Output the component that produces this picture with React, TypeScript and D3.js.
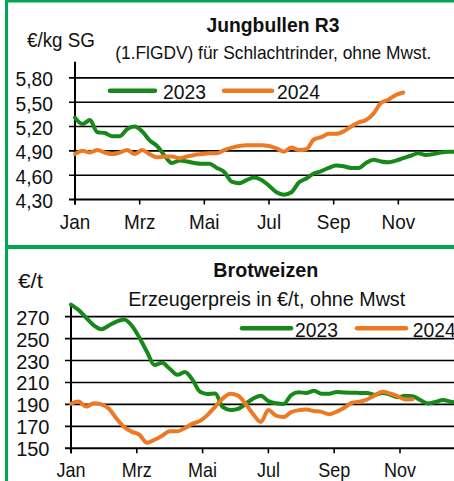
import { useEffect, useRef } from 'react';
import * as d3 from 'd3';

// weekly values, week 0 = first week of January
const bullen2023 = [
  5.31, 5.23, 5.28, 5.13, 5.12, 5.08, 5.08, 5.17, 5.2, 5.14, 5.03, 4.96, 4.84,
  4.75, 4.78, 4.77, 4.75, 4.74, 4.74, 4.69, 4.64, 4.52, 4.5, 4.54, 4.57, 4.54,
  4.47, 4.39, 4.36, 4.39, 4.51, 4.56, 4.62, 4.65, 4.69, 4.72, 4.71, 4.69, 4.69,
  4.75, 4.79, 4.77, 4.76, 4.78, 4.81, 4.84, 4.87, 4.85, 4.86, 4.88, 4.89, 4.89
];
const bullen2024 = [
  4.86, 4.9, 4.88, 4.91, 4.88, 4.86, 4.88, 4.91, 4.86, 4.91, 4.86, 4.82, 4.83,
  4.83, 4.81, 4.83, 4.85, 4.86, 4.87, 4.87, 4.91, 4.94, 4.96, 4.97, 4.97, 4.97,
  4.96, 4.93, 4.89, 4.94, 4.91, 4.92, 5.04, 5.07, 5.11, 5.11, 5.14, 5.2, 5.25,
  5.28, 5.36, 5.49, 5.53, 5.59, 5.62
];
const weizen2023 = [
  281, 276, 269, 262, 258.5, 262, 265.5, 267.5, 262, 251, 238, 226, 228, 222.5,
  217, 219.5, 212.5, 201.5, 199.5, 200, 187.5, 185, 186, 190.5, 195.5, 198, 193,
  191, 190.5, 198.5, 201, 200.5, 202.5, 199.7, 199.7, 201.3, 200.8, 200.6, 200.5,
  200.4, 198.7, 200.5, 199, 196.5, 197.8, 197.5, 194, 190.8, 192.2, 194, 192.5, 191.5
];
const weizen2024 = [
  190.6, 192.6, 188, 191, 190, 186, 177, 169.5, 165.2, 162.5, 155, 157.8, 161.5,
  165.5, 165.5, 168.5, 172.5, 175, 180.5, 188, 195.5, 199.7, 198, 190.5, 181, 174,
  185, 179.7, 178.5, 183, 184.8, 185.3, 184, 183.2, 181, 183.5, 187, 191.5, 192.5,
  194.5, 198.2, 201.5, 200, 197.5, 194.5, 194.8
];

const monthTicks = [0, 2, 4, 6, 8, 10];
const monthLabels = ['Jan', 'Mrz', 'Mai', 'Jul', 'Sep', 'Nov'];
const bullenTicks = [4.3, 4.6, 4.9, 5.2, 5.5, 5.8];
const weizenTicks = [150, 170, 190, 210, 230, 250, 270];
const years = ['2023', '2024'];

const GREEN = '#17891a';
const ORANGE = '#ec7a25';
const FRAME = '#00a651';
const FONT = '"Liberation Sans", Arial, sans-serif';

interface Panel {
  series: number[][];
  domain: [number, number];
  ticks: number[];
  fmt: (v: number) => string;
  xRange: [number, number];
  yRange: [number, number];
  tickRight: number;
  tickSize: number;
  tickSx: number;
  monthY: number;
  monthSize: number;
  title: { text: string; x: number; y: number; len: number };
  sub: { text: string; x: number; y: number; len: number; size: number };
  unit: { text: string; x: number; y: number; len: number };
  legend: { y: number; lines: [number, number][]; textX: number[] };
}

const panels: Panel[] = [
  {
    series: [bullen2023, bullen2024],
    domain: [4.3, 6.0],
    ticks: bullenTicks,
    fmt: v => v.toFixed(2).replace('.', ','),
    xRange: [75, 463],
    yRange: [199.5, 61.7],
    tickRight: 53,
    tickSize: 21,
    tickSx: 0.92,
    monthY: 229,
    monthSize: 21,
    title: { text: 'Jungbullen R3', x: 273, y: 31.5, len: 133 },
    sub: { text: '(1.FlGDV) für Schlachtrinder, ohne Mwst.', x: 273.3, y: 58.5, len: 316, size: 18.6 },
    unit: { text: '€/kg SG', x: 27, y: 46.5, len: 68 },
    legend: { y: 90.7, lines: [[110, 155], [224, 272]], textX: [163, 277] }
  },
  {
    series: [weizen2023, weizen2024],
    domain: [150, 280],
    ticks: weizenTicks,
    fmt: v => String(v),
    xRange: [71, 465.8],
    yRange: [448.3, 305.7],
    tickRight: 49.5,
    tickSize: 20,
    tickSx: 1,
    monthY: 476.5,
    monthSize: 20,
    title: { text: 'Brotweizen', x: 265.8, y: 276.5, len: 105 },
    sub: { text: 'Erzeugerpreis in €/t, ohne Mwst', x: 266.7, y: 306, len: 277, size: 20 },
    unit: { text: '€/t', x: 18, y: 288, len: 25 },
    legend: { y: 328.3, lines: [[242, 291], [357, 406]], textX: [295, 412.7] }
  }
];

export default function App() {
  const svgRef = useRef<SVGSVGElement>(null);

  useEffect(() => {
    if (!svgRef.current) return;
    const svg = d3.select(svgRef.current);
    svg.selectAll('*').remove();

    // green frame
    svg.append('rect').attr('x', 5).attr('y', 0).attr('width', 449).attr('height', 2.5).attr('fill', FRAME);
    svg.append('rect').attr('x', 5).attr('y', 0).attr('width', 3).attr('height', 481).attr('fill', FRAME);
    svg.append('rect').attr('x', 5).attr('y', 245).attr('width', 449).attr('height', 4).attr('fill', FRAME);

    panels.forEach(p => {
      const g = svg.append('g');
      const x = d3.scaleLinear().domain([0, 12]).range(p.xRange);
      const y = d3.scaleLinear().domain(p.domain).range(p.yRange);
      const [x0] = p.xRange;

      // gridlines + y ticks
      p.ticks.forEach(t => {
        g.append('line')
          .attr('x1', x0 - 6).attr('x2', 454)
          .attr('y1', y(t)).attr('y2', y(t))
          .attr('stroke', '#000').attr('stroke-width', t === p.domain[0] ? 2 : 1.6);
        g.append('text')
          .attr('transform', `translate(${p.tickRight},${y(t)}) scale(${p.tickSx},1)`)
          .attr('dy', '0.4em')
          .attr('text-anchor', 'end')
          .attr('font-family', FONT)
          .attr('font-size', p.tickSize)
          .attr('fill', '#111')
          .text(p.fmt(t));
      });

      // y axis
      g.append('line')
        .attr('x1', x0).attr('x2', x0)
        .attr('y1', p.yRange[1]).attr('y2', p.yRange[0] + 5)
        .attr('stroke', '#000').attr('stroke-width', 2);

      // month ticks
      monthTicks.forEach((m, i) => {
        g.append('line')
          .attr('x1', x(m)).attr('x2', x(m))
          .attr('y1', p.yRange[0]).attr('y2', p.yRange[0] + 5)
          .attr('stroke', '#000').attr('stroke-width', 1.6);
        g.append('text')
          .attr('transform', `translate(${x(m)},${p.monthY}) scale(0.9,1)`)
          .attr('text-anchor', 'middle')
          .attr('font-family', FONT)
          .attr('font-size', p.monthSize)
          .attr('fill', '#111')
          .text(monthLabels[i]);
      });

      // series
      const line = d3.line<number>()
        .x((_, i) => x((i * 12) / 52))
        .y(d => y(d))
        .curve(d3.curveMonotoneX);
      p.series.forEach((s, i) => {
        g.append('path')
          .datum(s)
          .attr('fill', 'none')
          .attr('stroke', i === 0 ? GREEN : ORANGE)
          .attr('stroke-width', 4)
          .attr('stroke-linejoin', 'round')
          .attr('stroke-linecap', 'round')
          .attr('d', line);
      });

      // legend
      years.forEach((yr, i) => {
        const [l0, l1] = p.legend.lines[i];
        g.append('line')
          .attr('x1', l0).attr('x2', l1)
          .attr('y1', p.legend.y).attr('y2', p.legend.y)
          .attr('stroke', i === 0 ? GREEN : ORANGE)
          .attr('stroke-width', 4.5)
          .attr('stroke-linecap', 'round');
        g.append('text')
          .attr('transform', `translate(${p.legend.textX[i]},${p.legend.y + 8.5}) scale(0.92,1)`)
          .attr('font-family', FONT)
          .attr('font-size', 21)
          .attr('fill', '#111')
          .text(yr);
      });

      // titles
      g.append('text')
        .attr('x', p.title.x).attr('y', p.title.y)
        .attr('text-anchor', 'middle')
        .attr('font-family', FONT)
        .attr('font-weight', 'bold')
        .attr('font-size', 21)
        .attr('textLength', p.title.len)
        .attr('lengthAdjust', 'spacingAndGlyphs')
        .attr('fill', '#111')
        .text(p.title.text);
      g.append('text')
        .attr('x', p.sub.x).attr('y', p.sub.y)
        .attr('text-anchor', 'middle')
        .attr('font-family', FONT)
        .attr('font-size', p.sub.size)
        .attr('textLength', p.sub.len)
        .attr('lengthAdjust', 'spacingAndGlyphs')
        .attr('fill', '#111')
        .text(p.sub.text);
      g.append('text')
        .attr('x', p.unit.x).attr('y', p.unit.y)
        .attr('font-family', FONT)
        .attr('font-size', 21)
        .attr('textLength', p.unit.len)
        .attr('lengthAdjust', 'spacingAndGlyphs')
        .attr('fill', '#111')
        .text(p.unit.text);
    });
  }, []);

  return (
    <>
      <style>{'body{margin:0;}'}</style>
      <svg ref={svgRef} width={454} height={481} style={{ display: 'block', background: '#fff' }} />
    </>
  );
}
